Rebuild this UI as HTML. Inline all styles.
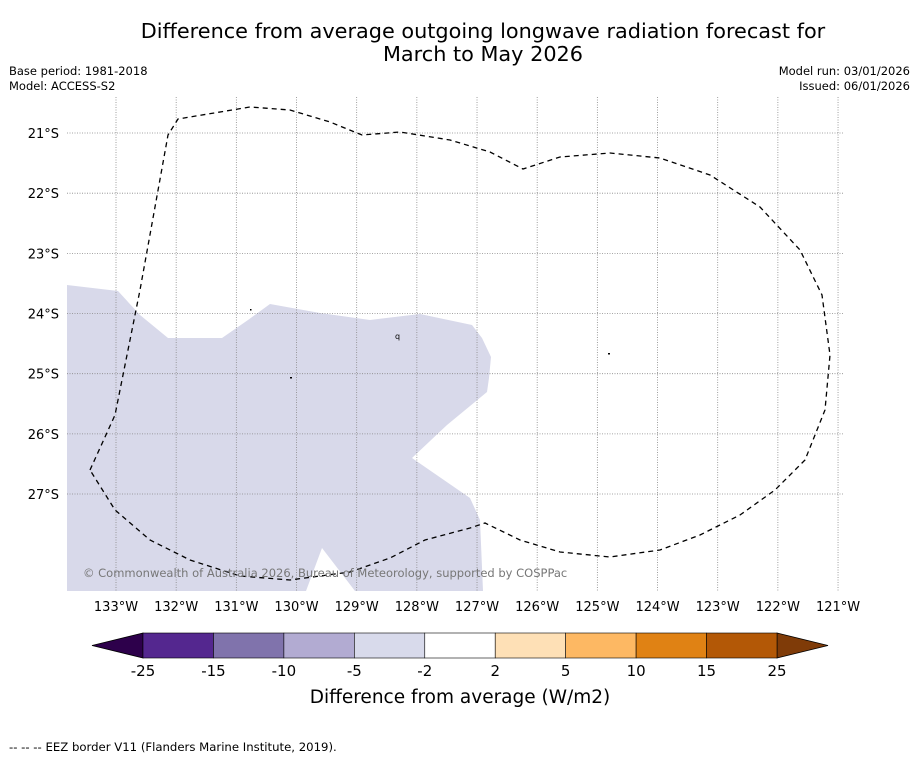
<!DOCTYPE html>
<html><head><meta charset="utf-8">
<style>
html,body{margin:0;padding:0;background:#fff;}
body{width:919px;height:758px;overflow:hidden;font-family:"Liberation Sans","DejaVu Sans",sans-serif;}
svg text{font-family:"DejaVu Sans","Liberation Sans",sans-serif;}
</style></head>
<body>
<svg id="chart" width="919" height="758" xmlns="http://www.w3.org/2000/svg">
<text x="483" y="38" font-size="20.8" text-anchor="middle">Difference from average outgoing longwave radiation forecast for</text>
<text x="483" y="61" font-size="20.8" text-anchor="middle">March to May 2026</text>
<text x="9" y="75" font-size="11.5">Base period: 1981-2018</text>
<text x="9" y="90" font-size="11.5">Model: ACCESS-S2</text>
<text x="910" y="75" font-size="11.5" text-anchor="end">Model run: 03/01/2026</text>
<text x="910" y="90" font-size="11.5" text-anchor="end">Issued: 06/01/2026</text>

<g id="map">
<polygon fill="#d8d9ea"
 points="67,285 118,291 140,315 168,338 222,338 248,320 270,304 320,313 370,320 420,314 472,325 482,338 491,357 489,378 487,392 447,425 412,458 470,498 480,520 483,591 355,591 322,548 306,591 67,591"/>
<g id="grid" stroke="#888" stroke-width="0.8" stroke-dasharray="1,1.5"></g>
<polyline fill="none" stroke="#000" stroke-width="1.3" stroke-dasharray="5,4"
 points="90,470 115,415 140,290 168,135 178,119 250,107 290,110 330,122 362,135 400,132 450,140 490,152 523,169 560,157 610,153 660,158 710,175 760,207 800,250 822,295 830,355 825,410 805,460 775,490 740,515 700,535 660,550 610,557 560,552 520,540 485,523 470,528 425,540 390,558 350,572 290,580 240,576 190,560 150,540 115,510 90,470"/>
<rect x="250" y="309" width="1.5" height="1.5" fill="#000"/>
<rect x="290" y="377" width="2" height="1.5" fill="#000"/>
<rect x="608" y="353" width="2" height="1.5" fill="#000"/>
<text x="395" y="339" font-size="8">q</text>
<text x="83" y="577" font-size="11.5" fill="#777">© Commonwealth of Australia 2026, Bureau of Meteorology, supported by COSPPac</text>
</g>
<g id="lonlabels"></g>
<g id="latlabels"></g>
<g id="cbar"></g>
<text x="460" y="703" font-size="18.5" text-anchor="middle">Difference from average (W/m2)</text>
<text x="9" y="751" font-size="11.7">-- -- -- EEZ border V11 (Flanders Marine Institute, 2019).</text>
</svg>
<script>
const lonTicks=[133,132,131,130,129,128,127,126,125,124,123,122,121];
const latTicks=[21,22,23,24,25,26,27];
const cbBounds=[-25,-15,-10,-5,-2,2,5,10,15,25];
const cbColors=["#54278f","#8073ac","#b2abd2","#d8daeb","#ffffff","#fee0b6","#fdb863","#e08214","#b35806"];
const cbLow="#2d004b", cbHigh="#7f3b08";
const NS="http://www.w3.org/2000/svg";
function xLon(l){return 116+(133-l)*60.17;}
function yLat(l){return 133+(l-21)*60.17;}
function mk(tag,attrs,parent){const e=document.createElementNS(NS,tag);for(const k in attrs)e.setAttribute(k,attrs[k]);parent.appendChild(e);return e;}
const grid=document.getElementById('grid'),lonG=document.getElementById('lonlabels'),latG=document.getElementById('latlabels'),cb=document.getElementById('cbar');
lonTicks.forEach(l=>{const x=xLon(l);
 const ln=mk('line',{x1:x,x2:x,y1:97,y2:591},grid);
 
 
 const t=mk('text',{x:x,y:611,'font-size':13,'text-anchor':'middle'},lonG);t.textContent=l+'°W';
 
 });
latTicks.forEach(l=>{const y=yLat(l);
 const ln=mk('line',{x1:67,x2:843,y1:y,y2:y},grid);
 
 
 const t=mk('text',{x:59,y:y+5,'font-size':13,'text-anchor':'end'},latG);t.textContent=l+'°S';
 
 });
const cx0=143,cx1=777,cy0=633,cy1=658,n=cbBounds.length-1;
function cbX(i){return cx0+(cx1-cx0)*i/n;}
const lowTri=mk('polygon',{points:`${cx0},${cy0} ${cx0},${cy1} 92,${(cy0+cy1)/2}`,fill:cbLow,stroke:'#000','stroke-width':0.8},cb);


const hiTri=mk('polygon',{points:`${cx1},${cy0} ${cx1},${cy1} 828,${(cy0+cy1)/2}`,fill:cbHigh,stroke:'#000','stroke-width':0.8},cb);


cbColors.forEach((c,i)=>{const r=mk('rect',{x:cbX(i),y:cy0,width:cbX(i+1)-cbX(i),height:cy1-cy0,fill:c,stroke:'#000','stroke-width':0.6},cb);
 
 });
cbBounds.forEach((b,i)=>{const t=mk('text',{x:cbX(i),y:676,'font-size':15,'text-anchor':'middle'},cb);t.textContent=b;
 
 });
</script>
</body></html>
